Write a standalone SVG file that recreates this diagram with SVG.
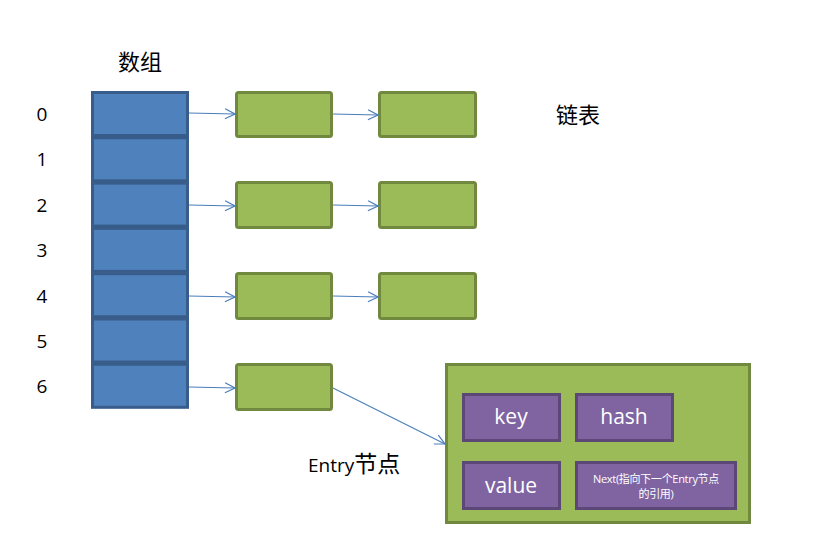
<svg xmlns="http://www.w3.org/2000/svg" width="839" height="552" viewBox="0 0 839 552">
<defs>
<style>
.cell{fill:#4f81bd;stroke:#385d8a;stroke-width:3}
.node{fill:#9bbb59;stroke:#71893f;stroke-width:3}
.field{fill:#8064a2;stroke:#5c4776;stroke-width:3}
.lbl{font-family:"Open Sans","Liberation Sans","Noto Sans CJK SC",sans-serif;font-size:19px;fill:#000}
.cjk{font-family:"Noto Sans CJK SC",sans-serif;font-size:22px;fill:#000}
.ft{font-family:"Open Sans","Liberation Sans","Noto Sans CJK SC",sans-serif;font-size:21px;fill:#fff;text-anchor:middle}
.fs{font-family:"Open Sans","Noto Sans CJK SC",sans-serif;font-size:11px;fill:#fff;text-anchor:middle;letter-spacing:-0.3px}
.conn{stroke:#4a7ebb;stroke-width:1.2;fill:none}
</style>
<marker id="arr" viewBox="0 0 12 12" refX="11" refY="6" markerWidth="12" markerHeight="12" markerUnits="userSpaceOnUse" orient="auto">
<path d="M1,1 L11,6 L1,11" fill="none" stroke="#4a7ebb" stroke-width="1.2"/>
</marker>
</defs>
<rect width="839" height="552" fill="#fff"/>
<text class="cjk" x="140" y="70" text-anchor="middle">数组</text>
<text class="cjk" x="578" y="123" text-anchor="middle" font-size="23">链表</text>
<g id="indices">
<text class="lbl" x="42" y="121" text-anchor="middle">0</text>
<text class="lbl" x="42" y="166" text-anchor="middle">1</text>
<text class="lbl" x="42" y="212" text-anchor="middle">2</text>
<text class="lbl" x="42" y="257" text-anchor="middle">3</text>
<text class="lbl" x="42" y="303" text-anchor="middle">4</text>
<text class="lbl" x="42" y="348" text-anchor="middle">5</text>
<text class="lbl" x="42" y="393" text-anchor="middle">6</text>
</g>
<g id="array">
<rect class="cell" x="92.5" y="92.5" width="95" height="43"/>
<rect class="cell" x="92.5" y="137.8" width="95" height="43"/>
<rect class="cell" x="92.5" y="183.1" width="95" height="43"/>
<rect class="cell" x="92.5" y="228.4" width="95" height="43"/>
<rect class="cell" x="92.5" y="273.7" width="95" height="43"/>
<rect class="cell" x="92.5" y="319" width="95" height="43"/>
<rect class="cell" x="92.5" y="364.3" width="95" height="43"/>
</g>
<g id="n0a"><rect class="node" x="236.5" y="92.5" width="95" height="44" rx="2"/></g>
<g id="n0b"><rect class="node" x="379.5" y="92.5" width="96" height="44" rx="2"/></g>
<g id="n2a"><rect class="node" x="236.5" y="182.5" width="95" height="45" rx="2"/></g>
<g id="n2b"><rect class="node" x="379.5" y="182.5" width="96" height="45" rx="2"/></g>
<g id="n4a"><rect class="node" x="236.5" y="273.5" width="95" height="45" rx="2"/></g>
<g id="n4b"><rect class="node" x="379.5" y="273.5" width="96" height="45" rx="2"/></g>
<g id="n6a"><rect class="node" x="236.5" y="364.5" width="95" height="45" rx="2"/></g>
<g id="entry">
<rect class="node" x="446.5" y="364.5" width="303" height="158"/>
<rect class="field" x="463.5" y="394.5" width="96" height="46"/>
<text class="ft" x="511" y="424">key</text>
<rect class="field" x="576.5" y="394.5" width="96" height="46"/>
<text class="ft" x="624" y="424">hash</text>
<rect class="field" x="463.5" y="462.5" width="96" height="46"/>
<text class="ft" x="511" y="493">value</text>
<rect class="field" x="576.5" y="462.5" width="159" height="46"/>
<text class="fs" x="656" y="483">Next(指向下一个Entry节点</text>
<text class="fs" x="656" y="498">的引用)</text>
</g>
<text class="lbl" x="308" y="472" font-size="21">Entry<tspan font-family="Noto Sans CJK SC, sans-serif" font-size="23">节点</tspan></text>
<g id="connectors">
<line class="conn" x1="189" y1="113" x2="235" y2="114" marker-end="url(#arr)"/>
<line class="conn" x1="333" y1="114" x2="378" y2="115" marker-end="url(#arr)"/>
<line class="conn" x1="189" y1="205" x2="235" y2="206" marker-end="url(#arr)"/>
<line class="conn" x1="333" y1="205" x2="378" y2="206" marker-end="url(#arr)"/>
<line class="conn" x1="189" y1="296" x2="235" y2="297" marker-end="url(#arr)"/>
<line class="conn" x1="333" y1="296" x2="378" y2="297" marker-end="url(#arr)"/>
<line class="conn" x1="189" y1="387" x2="235" y2="388" marker-end="url(#arr)"/>
<line class="conn" x1="333" y1="388" x2="445" y2="444" marker-end="url(#arr)"/>
</g>
</svg>
